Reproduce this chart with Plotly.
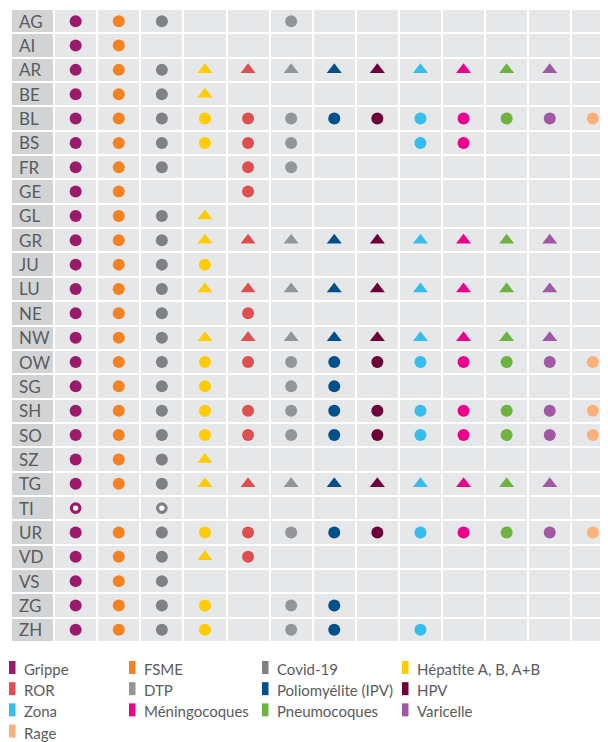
import plotly.graph_objects as go

cantons = ["AG", "AI", "AR", "BE", "BL", "BS", "FR", "GE", "GL", "GR", "JU", "LU", "NE",
           "NW", "OW", "SG", "SH", "SO", "SZ", "TG", "TI", "UR", "VD", "VS", "ZG", "ZH"]

vaccines = ["Grippe", "FSME", "Covid-19", "Hépatite A, B, A+B", "ROR", "DTP",
            "Poliomyélite (IPV)", "HPV", "Zona", "Méningocoques", "Pneumocoques",
            "Varicelle", "Rage"]

colors = ["#9a1b6c", "#f58220", "#808184", "#ffcb05", "#de4f50", "#939598",
          "#00508b", "#6d0038", "#35bdeb", "#ec008c", "#6db33f", "#a059a4", "#fbb079"]

# c = filled circle, t = triangle, o = open ring, - = none
status = {
    "AG": "ccc--c-------",
    "AI": "cc-----------",
    "AR": "cccttttttttt-",
    "BE": "ccct---------",
    "BL": "ccccccccccccc",
    "BS": "cccccc--cc---",
    "FR": "ccc-cc-------",
    "GE": "cc--c--------",
    "GL": "ccct---------",
    "GR": "cccttttttttt-",
    "JU": "cccc---------",
    "LU": "cccttttttttt-",
    "NE": "ccc-c--------",
    "NW": "cccttttttttt-",
    "OW": "ccccccccccccc",
    "SG": "cccc-cc------",
    "SH": "ccccccccccccc",
    "SO": "ccccccccccccc",
    "SZ": "ccct---------",
    "TG": "cccttttttttt-",
    "TI": "o-o----------",
    "UR": "ccccccccccccc",
    "VD": "ccctc--------",
    "VS": "ccc----------",
    "ZG": "cccc-cc------",
    "ZH": "cccc-cc-c----",
}

OFF = 8  # page body margin
W, H = 600, 734
ML, MT, MB = 3, 1.1, 99.5
PW, PH = W - ML, H - MT - MB
COLW = 43.1
nrows, ncols = len(cantons), len(vaccines) + 1
FONT = "Lato, Open Sans, sans-serif"
TXT = "#5a5b5d"

fig = go.Figure()

# cell backgrounds
z = [[1] + [0] * len(vaccines) for _ in cantons]
fig.add_trace(go.Heatmap(
    z=z, x=list(range(ncols)), y=list(range(nrows)),
    colorscale=[[0, "#e6e7e8"], [1, "#d1d3d4"]], showscale=False,
    xgap=2, ygap=2, hoverinfo="skip"))

sym_map = {"c": "circle", "t": "triangle-up", "o": "circle"}
for j, (vac, col) in enumerate(zip(vaccines, colors)):
    xs, ys, syms, fills, sizes, lws = [], [], [], [], [], []
    for i, c in enumerate(cantons):
        s = status[c][j]
        if s == "-":
            continue
        xs.append(j + 1)
        ys.append(i)
        syms.append(sym_map[s])
        if s == "o":
            fills.append("#ffffff"); sizes.append(8.5); lws.append(3.2)
        elif s == "t":
            fills.append(col); sizes.append(13); lws.append(0)
        else:
            fills.append(col); sizes.append(12); lws.append(0)
    fig.add_trace(go.Scatter(
        x=xs, y=ys, mode="markers", name=vac, showlegend=False, hoverinfo="skip",
        marker=dict(symbol=syms, color=fills, size=sizes, opacity=1,
                    line=dict(color=col, width=lws))))

# row labels
for i, c in enumerate(cantons):
    fig.add_annotation(x=-0.5, y=i, xref="x", yref="y", text=c, showarrow=False,
                       xanchor="left", xshift=6, yshift=0,
                       font=dict(family=FONT, size=17, color=TXT))

# legend (custom, 4 columns); positions given in screen pixels
def px2paper_x(px):
    return (px - OFF - ML) / PW

def px2paper_y(py):
    return 1 - (py - OFF - MT) / PH

leg_col_x = [9, 129, 262, 402]
leg_row_y0 = 669.5
leg_row_dy = 21.2
for k, (vac, col) in enumerate(zip(vaccines, colors)):
    cx = leg_col_x[k % 4]
    cy = leg_row_y0 + leg_row_dy * (k // 4)
    fig.add_shape(type="rect", xref="paper", yref="paper",
                  x0=px2paper_x(cx), x1=px2paper_x(cx + 6.5),
                  y0=px2paper_y(cy - 8), y1=px2paper_y(cy + 5),
                  fillcolor=col, line=dict(width=0))
    fig.add_annotation(x=px2paper_x(cx + 13), y=px2paper_y(cy), xref="paper", yref="paper",
                       text=vac, showarrow=False, xanchor="left", yanchor="middle",
                       font=dict(family=FONT, size=15, color=TXT))

fig.update_layout(
    width=W, height=H,
    margin=dict(l=ML, r=0, t=MT, b=MB),
    paper_bgcolor="white", plot_bgcolor="white",
    xaxis=dict(range=[-0.5, -0.5 + PW / COLW], visible=False, fixedrange=True),
    yaxis=dict(range=[nrows - 0.5, -0.5], visible=False, fixedrange=True),
    showlegend=False,
)

fig.write_html("out.html")
